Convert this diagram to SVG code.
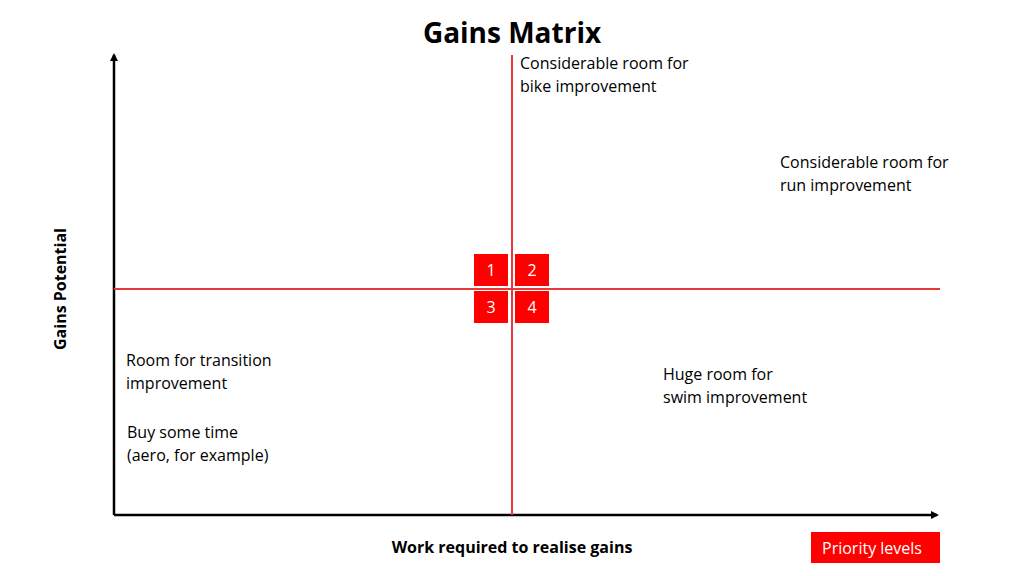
<svg xmlns="http://www.w3.org/2000/svg" width="1024" height="576" viewBox="0 0 1024 576">
<style>
text{font-family:"Open Sans","Liberation Sans",sans-serif;font-size:16px;fill:#000}
.b{font-weight:bold}
.w{fill:#fff;text-anchor:middle}
.box{fill:#ff0000}
.red{stroke:#e8393a;stroke-width:2;fill:none}
.ax{stroke:#000;stroke-width:2.5;fill:none}
</style>
<defs><marker id="ar" markerWidth="8" markerHeight="8" refX="6" refY="4" orient="auto" markerUnits="userSpaceOnUse"><path d="M0,0 L8,4 L0,8 Z" fill="#000"/></marker></defs>
<rect width="1024" height="576" fill="#fff"/>
<text x="512" y="43" class="b" style="font-size:28px;text-anchor:middle">Gains Matrix</text>
<g id="connectors">
<path class="ax" d="M114,515 L114,55" marker-end="url(#ar)"/>
<path class="ax" d="M114,515 L937,515" marker-end="url(#ar)"/>
<path class="red" d="M512,55 L512,515"/>
<path class="red" d="M114,289 L940,289"/>
</g>
<text transform="translate(66,289) rotate(-90)" class="b" style="text-anchor:middle">Gains Potential</text>
<text x="512" y="553" class="b" style="text-anchor:middle">Work required to realise gains</text>
<g id="q1"><text x="520" y="69">Considerable room for</text><text x="520" y="92">bike improvement</text></g>
<g id="q2"><text x="780" y="168">Considerable room for</text><text x="780" y="191">run improvement</text></g>
<g id="q3"><text x="126" y="366">Room for transition</text><text x="126" y="389">improvement</text></g>
<g id="q3b"><text x="127" y="438">Buy some time</text><text x="127" y="461">(aero, for example)</text></g>
<g id="q4"><text x="663" y="380">Huge room for</text><text x="663" y="403">swim improvement</text></g>
<g id="n1"><rect class="box" x="474" y="254" width="34" height="32"/><text class="w" x="491" y="276">1</text></g>
<g id="n2"><rect class="box" x="515" y="254" width="34" height="32"/><text class="w" x="532" y="276">2</text></g>
<g id="n3"><rect class="box" x="474" y="291" width="34" height="32"/><text class="w" x="491" y="313">3</text></g>
<g id="n4"><rect class="box" x="515" y="291" width="34" height="32"/><text class="w" x="532" y="313">4</text></g>
<g id="legend"><rect class="box" x="811" y="532" width="129" height="31"/><text class="w" x="872" y="554">Priority levels</text></g>
</svg>
